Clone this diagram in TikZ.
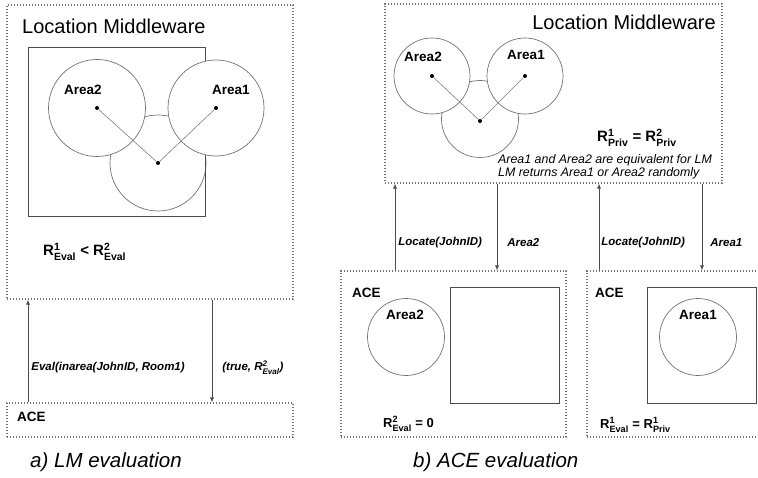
\documentclass[tikz,border=0pt]{standalone}
\usepackage{fontspec}
\setmainfont{Liberation Sans}
\usepackage{amsmath}
\usetikzlibrary{arrows.meta}

% R with superscript and subscript, set in the text font
\newcommand{\Rval}[2]{R${}^{\text{#1}}_{\text{#2}}$}

\begin{document}
\begin{tikzpicture}[
    x=1pt, y=-1pt,
    panel/.style={draw=black!55, line width=1.1pt, dash pattern=on 1.1pt off 1.9pt, inner sep=0pt},
    room/.style={draw=black!70, line width=0.9pt},
    area/.style={circle, draw=black!55, line width=0.7pt, inner sep=0pt},
    hub/.style={circle, fill=black, inner sep=0pt, minimum size=4pt},
    link/.style={draw=black!50, line width=0.6pt},
    msg/.style={-{Latex[length=5pt, width=4pt]}, draw=black!70, line width=0.7pt},
    title/.style={font=\fontsize{20}{24}\selectfont, inner sep=0pt},
    tag/.style={font=\fontsize{13.5}{16}\selectfont\bfseries, inner sep=0pt},
    msglbl/.style={font=\fontsize{11.5}{14}\selectfont\bfseries\itshape, inner sep=0pt, anchor=west},
    formula/.style={font=\fontsize{15}{18}\selectfont\bfseries, inner sep=0pt, anchor=west},
    note/.style={font=\fontsize{12.4}{12.5}\selectfont\itshape, inner sep=0pt, anchor=west, align=left},
    caption/.style={font=\fontsize{20.5}{24}\selectfont\itshape, inner sep=0pt, anchor=west}
  ]
  \useasboundingbox (0,0) rectangle (758,478);

  % a) LM evaluation
  \node[panel, minimum width=286pt, minimum height=294pt] (lmA) at (150,152) {};
  \node[panel, minimum width=286pt, minimum height=34pt] (aceA) at (150,420) {};
  \node[title, anchor=west] (lmAtitle) at (22,26) {Location Middleware};
  \node[area, minimum size=96pt] (roomA) at (158,163) {};
  \draw[room] (28,47) rectangle (205,216);
  \node[area, fill=white, minimum size=97pt] (area2A) at (97,108) {};
  \node[area, fill=white, minimum size=96pt] (area1A) at (216,108) {};
  \node[hub] (area2Ac) at (area2A) {};
  \node[hub] (area1Ac) at (area1A) {};
  \node[hub] (roomAc) at (roomA) {};
  \draw[link] (area2Ac) -- (roomAc) -- (area1Ac);
  \node[tag] (area2Albl) at (83,90) {Area2};
  \node[tag] (area1Albl) at (231,90) {Area1};
  \node[formula] (evalA) at (43,252) {\Rval{1}{Eval} < \Rval{2}{Eval}};
  \node[tag, anchor=west] (aceAlbl) at (17,417) {ACE};
  \node[caption] (capA) at (30,462) {a) LM evaluation};

  \coordinate (evalX) at (28,0);
  \coordinate (trueX) at (212,0);
  \draw[msg] (aceA.north -| evalX) -- (lmA.south -| evalX)
    node[msglbl, pos=0.34, xshift=3pt] {Eval(inarea(JohnID, Room1)};
  \draw[msg] (lmA.south -| trueX) -- (aceA.north -| trueX)
    node[msglbl, pos=0.66, xshift=10pt] {(true, \Rval{2}{Eval})};

  % b) ACE evaluation
  \node[panel, minimum width=337pt, minimum height=179pt] (lmB) at (553.5,93.5) {};
  \node[panel, minimum width=225pt, minimum height=166pt] (aceB2) at (453.5,354) {};
  \node[panel, minimum width=174pt, minimum height=166pt] (aceB1) at (674,354) {};
  \node[title, anchor=east] (lmBtitle) at (716,22) {Location Middleware};
  \node[area, minimum size=77pt] (roomB) at (480,119) {};
  \node[area, fill=white, minimum size=76pt] (area2B) at (432,76) {};
  \node[area, fill=white, minimum size=76pt] (area1B) at (525,76) {};
  \node[hub] (area2Bc) at (area2B) {};
  \node[hub] (area1Bc) at (area1B) {};
  \node[hub] (roomBc) at (480,121) {};
  \draw[link] (area2Bc) -- (roomBc) -- (area1Bc);
  \node[tag] (area2Blbl) at (423,57) {Area2};
  \node[tag] (area1Blbl) at (526,55) {Area1};
  \node[formula] (privB) at (597,138) {\Rval{1}{Priv} = \Rval{2}{Priv}};
  \node[note] (noteB) at (498,167) {Area1 and Area2 are equivalent for LM\\LM returns Area1 or Area2 randomly};

  \node[tag, anchor=west] (aceB2lbl) at (352,293) {ACE};
  \node[area, minimum size=77pt] (area2Bace) at (406,337) {};
  \node[tag] (area2Bacelbl) at (405,315) {Area2};
  \draw[room] (450,287) rectangle (559,403);
  \node[formula, font=\fontsize{13}{16}\selectfont\bfseries] (evalB2) at (383,424) {\Rval{2}{Eval} = 0};

  \node[tag, anchor=west] (aceB1lbl) at (595,293) {ACE};
  \draw[room] (647,287) rectangle (756,403);
  \node[area, minimum size=77pt] (area1Bace) at (698,337) {};
  \node[tag] (area1Bacelbl) at (698,315) {Area1};
  \node[formula, font=\fontsize{13}{16}\selectfont\bfseries] (evalB1) at (600,425) {\Rval{1}{Eval} = \Rval{1}{Priv}};
  \node[caption] (capB) at (413,462) {b) ACE evaluation};

  \coordinate (locate2X) at (395,0);
  \coordinate (reply2X) at (497,0);
  \coordinate (locate1X) at (599,0);
  \coordinate (reply1X) at (702,0);
  \draw[msg] (aceB2.north -| locate2X) -- (lmB.south -| locate2X)
    node[msglbl, pos=0.32, xshift=3pt] {Locate(JohnID)};
  \draw[msg] (lmB.south -| reply2X) -- (aceB2.north -| reply2X)
    node[msglbl, pos=0.68, xshift=10pt] {Area2};
  \draw[msg] (aceB1.north -| locate1X) -- (lmB.south -| locate1X)
    node[msglbl, pos=0.32, xshift=2pt] {Locate(JohnID)};
  \draw[msg] (lmB.south -| reply1X) -- (aceB1.north -| reply1X)
    node[msglbl, pos=0.68, xshift=8pt] {Area1};
\end{tikzpicture}
\end{document}
